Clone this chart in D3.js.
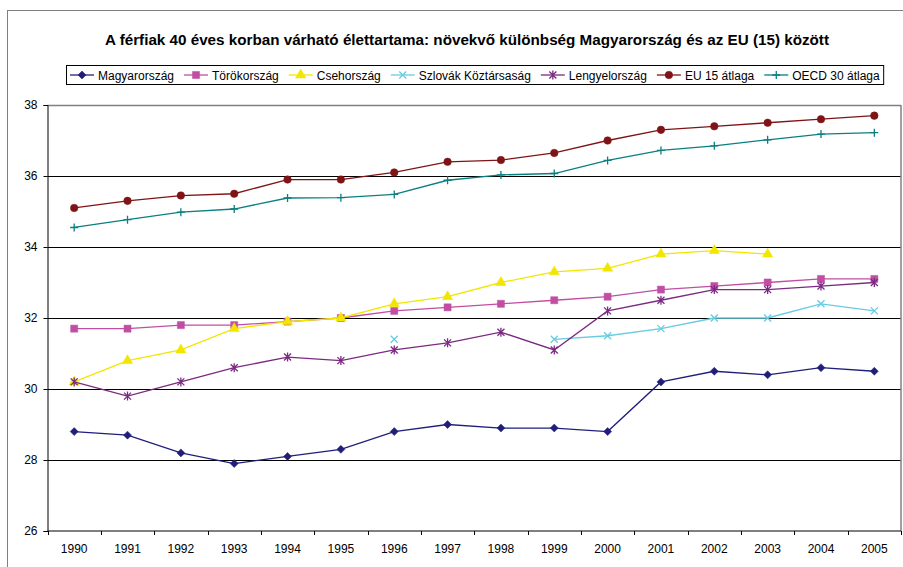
<!DOCTYPE html>
<html>
<head>
<meta charset="utf-8">
<script src="https://cdn.jsdelivr.net/npm/d3@7"></script>
<style>
  body { margin: 0; background: #fff; }
  text { font-family: "Liberation Sans", Arial, sans-serif; }
</style>
</head>
<body>
<svg id="chart"></svg>
<script>
// data
var years = ["1990","1991","1992","1993","1994","1995","1996","1997","1998","1999","2000","2001","2002","2003","2004","2005"];
var magyar  = [28.8, 28.7, 28.2, 27.9, 28.1, 28.3, 28.8, 29.0, 28.9, 28.9, 28.8, 30.2, 30.5, 30.4, 30.6, 30.5];
var torok   = [31.7, 31.7, 31.8, 31.8, 31.9, 32.0, 32.2, 32.3, 32.4, 32.5, 32.6, 32.8, 32.9, 33.0, 33.1, 33.1];
var cseh    = [30.2, 30.8, 31.1, 31.7, 31.9, 32.0, 32.4, 32.6, 33.0, 33.3, 33.4, 33.8, 33.9, 33.8, null, null];
var szlovak = [null, null, null, null, null, null, 31.4, null, null, 31.4, 31.5, 31.7, 32.0, 32.0, 32.4, 32.2];
var lengyel = [30.2, 29.8, 30.2, 30.6, 30.9, 30.8, 31.1, 31.3, 31.6, 31.1, 32.2, 32.5, 32.8, 32.8, 32.9, 33.0];
var eu15    = [35.1, 35.3, 35.45, 35.5, 35.9, 35.9, 36.1, 36.4, 36.45, 36.65, 37.0, 37.3, 37.4, 37.5, 37.6, 37.7];
var oecd30  = [34.55, 34.77, 34.98, 35.07, 35.38, 35.39, 35.48, 35.88, 36.03, 36.07, 36.44, 36.72, 36.85, 37.02, 37.18, 37.22];
var yTicks = [26, 28, 30, 32, 34, 36, 38];

var title = "A férfiak 40 éves korban várható élettartama: növekvő különbség Magyarország és az EU (15) között";

var series = [
  {name: "Magyarország", values: magyar, color: "#1f1f7a", marker: "diamond"},
  {name: "Törökország", values: torok, color: "#c04fa3", marker: "square"},
  {name: "Csehország", values: cseh, color: "#f2e600", marker: "triangle"},
  {name: "Szlovák Köztársaság", values: szlovak, color: "#66cce0", marker: "x"},
  {name: "Lengyelország", values: lengyel, color: "#7b2a82", marker: "star"},
  {name: "EU 15 átlaga", values: eu15, color: "#7f1416", marker: "circle"},
  {name: "OECD 30 átlaga", values: oecd30, color: "#0a7f80", marker: "plus"}
];

var width = 903, height = 567;
var plot = {left: 47.5, right: 901, top: 105, bottom: 531};

var svg = d3.select("#chart").attr("width", width).attr("height", height);

// outer chart border
svg.append("rect")
  .attr("x", 7.5).attr("y", 10.5)
  .attr("width", 1000).attr("height", 1000)
  .attr("fill", "none").attr("stroke", "#808080").attr("stroke-width", 1);

svg.append("text")
  .attr("x", 467).attr("y", 45)
  .attr("text-anchor", "middle")
  .attr("font-size", "14px").attr("font-weight", "bold")
  .attr("textLength", 724).attr("lengthAdjust", "spacingAndGlyphs")
  .text(title);

var x = d3.scaleBand().domain(years).range([plot.left, plot.right]);
var y = d3.scaleLinear().domain([26, 38]).range([plot.bottom, plot.top]);

// gridlines
svg.append("g").selectAll("line")
  .data(yTicks.slice(1))
  .join("line")
  .attr("x1", plot.left).attr("x2", plot.right)
  .attr("y1", function(d) { return Math.round(y(d)) + 0.5; })
  .attr("y2", function(d) { return Math.round(y(d)) + 0.5; })
  .attr("stroke", function(d) { return d == 38 ? "#808080" : "#000"; })
  .attr("stroke-width", function(d) { return d == 38 ? 1.5 : 1; });

// right border of plot
svg.append("line")
  .attr("x1", plot.right).attr("x2", plot.right)
  .attr("y1", plot.top).attr("y2", plot.bottom)
  .attr("stroke", "#808080").attr("stroke-width", 1.5);

// y axis
var yAxis = svg.append("g")
  .attr("transform", "translate(" + plot.left + ",0)")
  .call(d3.axisLeft(y).tickValues(yTicks).tickSize(4).tickPadding(6).tickFormat(d3.format("d")));
yAxis.select(".domain").attr("stroke", "#000");
yAxis.selectAll("text").attr("font-size", "12px").attr("font-family", "Liberation Sans, Arial, sans-serif").attr("fill", "#000");

// x axis: ticks between categories
var xAxis = svg.append("g")
  .attr("transform", "translate(0," + plot.bottom + ")");
xAxis.append("line")
  .attr("x1", plot.left).attr("x2", plot.right)
  .attr("stroke", "#000");
var bounds = years.map(function(d) { return x(d); }).concat([plot.right]);
xAxis.selectAll("line.tick")
  .data(bounds)
  .join("line")
  .attr("class", "tick")
  .attr("x1", function(d) { return Math.round(d) + 0.5; })
  .attr("x2", function(d) { return Math.round(d) + 0.5; })
  .attr("y1", 0).attr("y2", 4)
  .attr("stroke", "#000");
xAxis.selectAll("text")
  .data(years)
  .join("text")
  .attr("x", function(d) { return x(d) + x.bandwidth() / 2; })
  .attr("y", 22)
  .attr("text-anchor", "middle")
  .attr("font-size", "12px")
  .text(function(d) { return d; });

function markerPath(type) {
  switch (type) {
    case "diamond": return "M0,-4L4,0L0,4L-4,0Z";
    case "square": return d3.symbol(d3.symbolSquare, 50)();
    case "triangle": return d3.symbol(d3.symbolTriangle, 46)();
    case "circle": return d3.symbol(d3.symbolCircle, 45)();
    case "x": return "M-3.5,-3.5L3.5,3.5M-3.5,3.5L3.5,-3.5";
    case "plus": return "M-4,0L4,0M0,-4L0,4";
    case "star": return "M-3.5,-3.5L3.5,3.5M-3.5,3.5L3.5,-3.5M0,-4.5L0,4.5";
  }
}
function isStroked(type) { return type == "x" || type == "plus" || type == "star"; }

var line = d3.line()
  .defined(function(d) { return d != null; })
  .x(function(d, i) { return x(years[i]) + x.bandwidth() / 2; })
  .y(function(d) { return y(d); });

series.forEach(function(s) {
  var g = svg.append("g");
  g.append("path")
    .attr("d", line(s.values))
    .attr("fill", "none")
    .attr("stroke", s.color)
    .attr("stroke-width", 1.3);
  g.selectAll("path.m")
    .data(s.values.map(function(v, i) { return {v: v, i: i}; }).filter(function(d) { return d.v != null; }))
    .join("path")
    .attr("class", "m")
    .attr("transform", function(d) { return "translate(" + (x(years[d.i]) + x.bandwidth() / 2) + "," + y(d.v) + ")"; })
    .attr("d", markerPath(s.marker))
    .attr("fill", isStroked(s.marker) ? "none" : s.color)
    .attr("stroke", s.color)
    .attr("stroke-width", isStroked(s.marker) ? 1.3 : 0.5);
});

// legend
var legend = svg.append("g");
var lx = 70, ly = 75, gap = 10;
series.forEach(function(s) {
  var item = legend.append("g").attr("transform", "translate(" + lx + "," + ly + ")");
  item.append("line").attr("x1", 0).attr("x2", 24).attr("stroke", s.color).attr("stroke-width", 1.3);
  item.append("path").attr("transform", "translate(12,0)")
    .attr("d", markerPath(s.marker))
    .attr("fill", isStroked(s.marker) ? "none" : s.color)
    .attr("stroke", s.color)
    .attr("stroke-width", isStroked(s.marker) ? 1.3 : 0.5);
  var t = item.append("text").attr("x", 28).attr("y", 4.5).attr("font-size", "12px").text(s.name);
  lx += 28 + t.node().getComputedTextLength() + gap;
});
legend.insert("rect", ":first-child")
  .attr("x", 66.5).attr("y", 65.5)
  .attr("width", lx - gap + 4 - 66.5).attr("height", 19)
  .attr("fill", "#fff").attr("stroke", "#000");
</script>
</body>
</html>
